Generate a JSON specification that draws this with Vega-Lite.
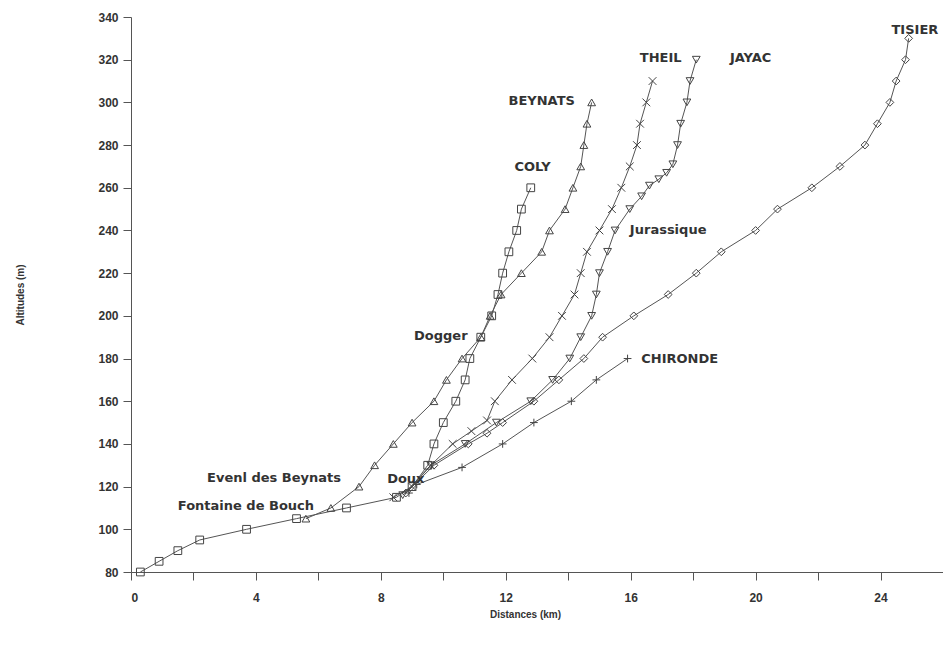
{
  "$schema": "https://vega.github.io/schema/vega-lite/v6.json",
  "autosize": "none",
  "width": 812,
  "height": 555,
  "padding": {"left": 131, "top": 17, "right": 0, "bottom": 76},
  "background": "white",
  "config": {
    "view": {"stroke": null},
    "font": "Liberation Sans",
    "axis": {"grid": false, "domainColor": "#555", "tickColor": "#555", "labelColor": "#333", "titleColor": "#333", "labelFont": "Liberation Sans", "titleFont": "Liberation Sans"}
  },
  "datasets": {
    "pts": [
      {"s": "COLY", "d": 0.3, "a": 80}, {"s": "COLY", "d": 0.9, "a": 85}, {"s": "COLY", "d": 1.5, "a": 90}, {"s": "COLY", "d": 2.2, "a": 95},
      {"s": "COLY", "d": 3.7, "a": 100}, {"s": "COLY", "d": 5.3, "a": 105}, {"s": "COLY", "d": 6.9, "a": 110}, {"s": "COLY", "d": 8.5, "a": 115},
      {"s": "COLY", "d": 9.0, "a": 120}, {"s": "COLY", "d": 9.5, "a": 130}, {"s": "COLY", "d": 9.7, "a": 140}, {"s": "COLY", "d": 10.0, "a": 150},
      {"s": "COLY", "d": 10.4, "a": 160}, {"s": "COLY", "d": 10.7, "a": 170}, {"s": "COLY", "d": 10.85, "a": 180}, {"s": "COLY", "d": 11.2, "a": 190},
      {"s": "COLY", "d": 11.55, "a": 200}, {"s": "COLY", "d": 11.75, "a": 210}, {"s": "COLY", "d": 11.9, "a": 220}, {"s": "COLY", "d": 12.1, "a": 230},
      {"s": "COLY", "d": 12.35, "a": 240}, {"s": "COLY", "d": 12.5, "a": 250}, {"s": "COLY", "d": 12.8, "a": 260},

      {"s": "BEYNATS", "d": 5.6, "a": 105}, {"s": "BEYNATS", "d": 6.4, "a": 110}, {"s": "BEYNATS", "d": 7.3, "a": 120}, {"s": "BEYNATS", "d": 7.8, "a": 130},
      {"s": "BEYNATS", "d": 8.4, "a": 140}, {"s": "BEYNATS", "d": 9.0, "a": 150}, {"s": "BEYNATS", "d": 9.7, "a": 160}, {"s": "BEYNATS", "d": 10.1, "a": 170},
      {"s": "BEYNATS", "d": 10.6, "a": 180}, {"s": "BEYNATS", "d": 11.2, "a": 190}, {"s": "BEYNATS", "d": 11.5, "a": 200}, {"s": "BEYNATS", "d": 11.85, "a": 210},
      {"s": "BEYNATS", "d": 12.5, "a": 220}, {"s": "BEYNATS", "d": 13.15, "a": 230}, {"s": "BEYNATS", "d": 13.4, "a": 240}, {"s": "BEYNATS", "d": 13.9, "a": 250},
      {"s": "BEYNATS", "d": 14.15, "a": 260}, {"s": "BEYNATS", "d": 14.4, "a": 270}, {"s": "BEYNATS", "d": 14.5, "a": 280}, {"s": "BEYNATS", "d": 14.6, "a": 290},
      {"s": "BEYNATS", "d": 14.75, "a": 300},

      {"s": "THEIL", "d": 8.4, "a": 115}, {"s": "THEIL", "d": 9.0, "a": 120}, {"s": "THEIL", "d": 9.6, "a": 130}, {"s": "THEIL", "d": 10.3, "a": 140},
      {"s": "THEIL", "d": 10.9, "a": 146}, {"s": "THEIL", "d": 11.4, "a": 151}, {"s": "THEIL", "d": 11.65, "a": 160}, {"s": "THEIL", "d": 12.2, "a": 170},
      {"s": "THEIL", "d": 12.85, "a": 180}, {"s": "THEIL", "d": 13.4, "a": 190}, {"s": "THEIL", "d": 13.8, "a": 200}, {"s": "THEIL", "d": 14.2, "a": 210},
      {"s": "THEIL", "d": 14.4, "a": 220}, {"s": "THEIL", "d": 14.6, "a": 230}, {"s": "THEIL", "d": 15.0, "a": 240}, {"s": "THEIL", "d": 15.4, "a": 250},
      {"s": "THEIL", "d": 15.7, "a": 260}, {"s": "THEIL", "d": 15.97, "a": 270}, {"s": "THEIL", "d": 16.2, "a": 280}, {"s": "THEIL", "d": 16.3, "a": 290},
      {"s": "THEIL", "d": 16.5, "a": 300}, {"s": "THEIL", "d": 16.7, "a": 310},

      {"s": "JAYAC", "d": 8.7, "a": 116}, {"s": "JAYAC", "d": 9.6, "a": 130}, {"s": "JAYAC", "d": 10.7, "a": 140}, {"s": "JAYAC", "d": 11.7, "a": 150},
      {"s": "JAYAC", "d": 12.8, "a": 160}, {"s": "JAYAC", "d": 13.5, "a": 170}, {"s": "JAYAC", "d": 14.05, "a": 180}, {"s": "JAYAC", "d": 14.4, "a": 190},
      {"s": "JAYAC", "d": 14.75, "a": 200}, {"s": "JAYAC", "d": 14.9, "a": 210}, {"s": "JAYAC", "d": 15.0, "a": 220}, {"s": "JAYAC", "d": 15.26, "a": 230},
      {"s": "JAYAC", "d": 15.5, "a": 240}, {"s": "JAYAC", "d": 15.97, "a": 250}, {"s": "JAYAC", "d": 16.35, "a": 256}, {"s": "JAYAC", "d": 16.6, "a": 261},
      {"s": "JAYAC", "d": 16.9, "a": 264}, {"s": "JAYAC", "d": 17.15, "a": 267}, {"s": "JAYAC", "d": 17.35, "a": 271}, {"s": "JAYAC", "d": 17.5, "a": 280},
      {"s": "JAYAC", "d": 17.6, "a": 290}, {"s": "JAYAC", "d": 17.8, "a": 300}, {"s": "JAYAC", "d": 17.9, "a": 310}, {"s": "JAYAC", "d": 18.1, "a": 320},

      {"s": "TISIER", "d": 8.8, "a": 117}, {"s": "TISIER", "d": 9.7, "a": 130}, {"s": "TISIER", "d": 10.8, "a": 140}, {"s": "TISIER", "d": 11.4, "a": 145},
      {"s": "TISIER", "d": 11.9, "a": 150}, {"s": "TISIER", "d": 12.9, "a": 160}, {"s": "TISIER", "d": 13.7, "a": 170}, {"s": "TISIER", "d": 14.5, "a": 180},
      {"s": "TISIER", "d": 15.1, "a": 190}, {"s": "TISIER", "d": 16.1, "a": 200}, {"s": "TISIER", "d": 17.2, "a": 210}, {"s": "TISIER", "d": 18.1, "a": 220},
      {"s": "TISIER", "d": 18.9, "a": 230}, {"s": "TISIER", "d": 20.0, "a": 240}, {"s": "TISIER", "d": 20.7, "a": 250}, {"s": "TISIER", "d": 21.8, "a": 260},
      {"s": "TISIER", "d": 22.7, "a": 270}, {"s": "TISIER", "d": 23.5, "a": 280}, {"s": "TISIER", "d": 23.9, "a": 290}, {"s": "TISIER", "d": 24.3, "a": 300},
      {"s": "TISIER", "d": 24.5, "a": 310}, {"s": "TISIER", "d": 24.8, "a": 320}, {"s": "TISIER", "d": 24.9, "a": 330},

      {"s": "CHIRONDE", "d": 8.9, "a": 117}, {"s": "CHIRONDE", "d": 9.15, "a": 121}, {"s": "CHIRONDE", "d": 10.6, "a": 129}, {"s": "CHIRONDE", "d": 11.9, "a": 140},
      {"s": "CHIRONDE", "d": 12.9, "a": 150}, {"s": "CHIRONDE", "d": 14.1, "a": 160}, {"s": "CHIRONDE", "d": 14.9, "a": 170}, {"s": "CHIRONDE", "d": 15.9, "a": 180}
    ],
    "labels": [
      {"t": "TISIER", "d": 25.1, "a": 334},
      {"t": "THEIL", "d": 16.96, "a": 320.8},
      {"t": "JAYAC", "d": 19.84, "a": 320.8},
      {"t": "BEYNATS", "d": 13.15, "a": 300.7},
      {"t": "COLY", "d": 12.86, "a": 269.7},
      {"t": "Jurassique", "d": 17.2, "a": 240.2},
      {"t": "Dogger", "d": 9.92, "a": 190.6},
      {"t": "CHIRONDE", "d": 17.57, "a": 180},
      {"t": "Doux", "d": 8.8, "a": 123.6},
      {"t": "Evenl des Beynats", "d": 4.58, "a": 124},
      {"t": "Fontaine de Bouch", "d": 3.68, "a": 111}
    ]
  },
  "layer": [
    {
      "mark": {"type": "rule", "color": "#555", "strokeWidth": 1.2},
      "encoding": {"y": {"datum": 340, "type": "quantitative", "scale": {"domain": [80, 340]}}}
    },
    {
      "data": {"name": "pts"},
      "mark": {"type": "line", "color": "#555", "strokeWidth": 1},
      "encoding": {
        "x": {"field": "d", "type": "quantitative", "scale": {"domain": [0, 26], "nice": false},
          "axis": {"title": "Distances (km)", "values": [0, 2, 4, 6, 8, 10, 12, 14, 16, 18, 20, 22, 24],
            "labelExpr": "datum.value % 4 == 0 ? datum.label : ''", "tickSize": 8, "labelPadding": 12,
            "labelFontSize": 12, "labelFontWeight": "bold", "titleFontSize": 10, "titleFontWeight": "bold", "titlePadding": 6, "titleX": 394}},
        "y": {"field": "a", "type": "quantitative", "scale": {"domain": [80, 340], "nice": false},
          "axis": {"title": "Altitudes (m)", "values": [80, 100, 120, 140, 160, 180, 200, 220, 240, 260, 280, 300, 320, 340],
            "tickSize": 8, "labelPadding": 5, "labelFontSize": 12, "labelFontWeight": "bold",
            "titleFontSize": 10, "titleFontWeight": "bold", "titlePadding": 72}},
        "detail": {"field": "s"},
        "order": {"field": "a", "type": "quantitative"}
      }
    },
    {
      "data": {"name": "pts"},
      "mark": {"type": "point", "filled": false, "color": "#444", "strokeWidth": 1, "size": 60, "opacity": 1},
      "encoding": {
        "x": {"field": "d", "type": "quantitative"},
        "y": {"field": "a", "type": "quantitative"},
        "shape": {"field": "s", "type": "nominal", "legend": null,
          "scale": {"domain": ["COLY", "BEYNATS", "THEIL", "JAYAC", "TISIER", "CHIRONDE"],
            "range": ["square", "triangle-up", "M-1,-1L1,1M-1,1L1,-1", "triangle-down", "diamond", "M-1,0L1,0M0,-1L0,1"]}}
      }
    },
    {
      "data": {"name": "labels"},
      "mark": {"type": "text", "font": "DejaVu Sans", "fontWeight": "bold", "fontSize": 13, "color": "#333", "align": "center", "baseline": "middle"},
      "encoding": {
        "x": {"field": "d", "type": "quantitative"},
        "y": {"field": "a", "type": "quantitative"},
        "text": {"field": "t"}
      }
    }
  ]
}
